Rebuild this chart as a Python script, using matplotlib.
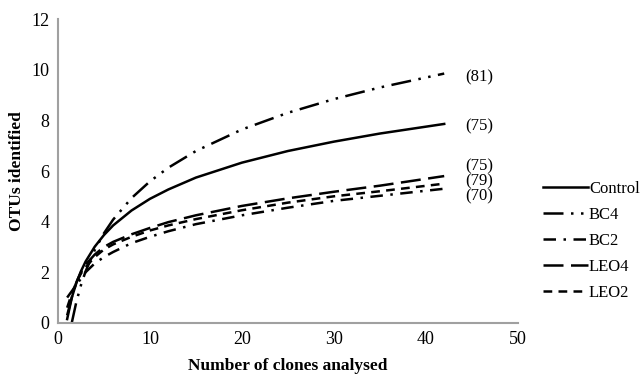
import matplotlib.pyplot as plt

plt.rcParams['font.family'] = ['Liberation Serif', 'DejaVu Serif']

# Courbes de raréfaction
clones = [1, 1.5, 2, 2.5, 3, 4, 5, 6, 8, 10, 12, 15, 20, 25, 30, 35, 42]
control = [0.15, 0.99, 1.58, 2.04, 2.42, 3.01, 3.47, 3.85, 4.44, 4.90, 5.27, 5.74,
           6.33, 6.79, 7.16, 7.48, 7.86]
bc2 = [1.0, 1.25, 1.5, 1.75, 2.0, 2.35, 2.6, 2.8, 3.15, 3.4, 3.62, 3.9,
       4.25, 4.55, 4.82, 5.02, 5.3]
leo4 = [0.3, 1.0, 1.6, 2.0, 2.3, 2.7, 3.0, 3.2, 3.5, 3.75, 3.98, 4.25,
        4.62, 4.92, 5.18, 5.42, 5.8]
leo2 = [0.6, 1.15, 1.6, 1.95, 2.2, 2.6, 2.9, 3.1, 3.4, 3.65, 3.85, 4.1,
        4.45, 4.75, 5.0, 5.2, 5.5]

clones_bc4 = [1.5, 2, 2.5, 3, 4, 5, 6, 8, 10, 12, 15, 20, 25, 30, 35, 42]
bc4 = [0.0, 0.83, 1.49, 2.03, 2.88, 3.54, 4.08, 4.93, 5.59, 6.13, 6.79, 7.64,
       8.30, 8.84, 9.30, 9.85]

series_names = ["Control", "BC4", "BC2", "LEO4", "LEO2"]
end_labels = ["(81)", "(75)", "(75)", "(79)", "(70)"]

fig = plt.figure(figsize=(6.44, 3.83), dpi=100)
ax = fig.add_axes([0.090, 0.157, 0.714, 0.793])

lw = 1.8
ax.plot(clones, control, color="black", lw=lw, linestyle="-", label=series_names[0])
ax.plot(clones_bc4, bc4, color="black", lw=lw, linestyle=(0, (8, 3, 1, 3, 1, 3)), label=series_names[1])
ax.plot(clones, bc2, color="black", lw=lw, linestyle=(0, (5, 3, 1, 3)), label=series_names[2])
ax.plot(clones, leo4, color="black", lw=lw, linestyle=(0, (8, 3)), label=series_names[3])
ax.plot(clones, leo2, color="black", lw=lw, linestyle=(0, (3.5, 2.5)), label=series_names[4])

# nombre de clones en bout de courbe
label_y = [9.7, 7.75, 6.2, 5.6, 5.0]
for txt, y in zip(end_labels, label_y):
    ax.text(44.3, y, txt, fontsize=12, va="center", ha="left")

ax.set_xlim(0, 50)
ax.set_ylim(0, 12)
ax.set_xticks(range(0, 51, 10))
ax.set_yticks(range(0, 13, 2))
ax.tick_params(length=0, labelsize=13, pad=6)
for side in ["top", "right"]:
    ax.spines[side].set_visible(False)
for side in ["left", "bottom"]:
    ax.spines[side].set_color("#a0a0a0")
    ax.spines[side].set_linewidth(1.5)

ax.set_xlabel("Number of clones analysed", fontsize=12.5, fontweight="bold")
ax.xaxis.set_label_coords(0.5, -0.115)
ax.set_ylabel("OTUs identified", fontsize=12.5, fontweight="bold")
ax.yaxis.set_label_coords(-0.072, 0.5)

fig.legend(loc="center left", bbox_to_anchor=(0.82, 0.37), frameon=False,
           fontsize=12, handlelength=2.7, handletextpad=0.05, labelspacing=0.6)

plt.savefig("out.png", dpi=100)
